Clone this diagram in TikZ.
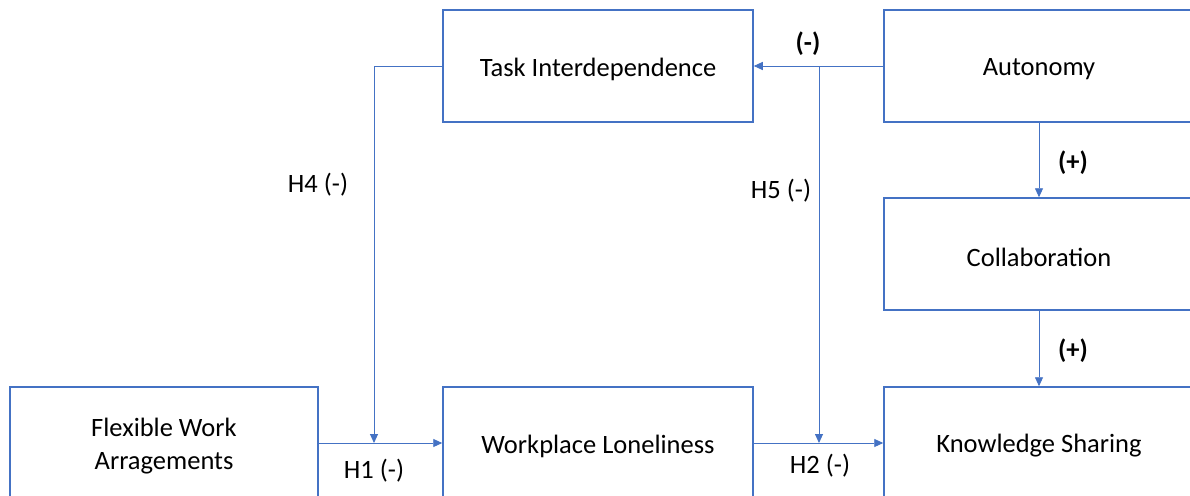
\documentclass[tikz,border=0pt]{standalone}
\usepackage{fontspec}
\setmainfont{Carlito}
\usetikzlibrary{arrows.meta}
\definecolor{lineblue}{HTML}{4472C4}
\begin{document}
\begin{tikzpicture}[x=1pt,y=-1pt,
  box/.style={draw=lineblue,line width=1.5pt,fill=white,minimum width=310pt,minimum height=112pt,inner sep=0pt},
  boxtext/.style={font=\fontsize{26.5}{33}\selectfont,align=center,inner sep=0pt,yshift=-3pt},
  conn/.style={draw=lineblue,line width=0.9pt,-{Triangle[length=9pt,width=8pt]}},
  lbl/.style={font=\fontsize{26.5}{32}\selectfont,inner sep=0pt},
  blbl/.style={font=\fontsize{26.5}{32}\selectfont\bfseries,inner sep=0pt}]
\useasboundingbox (0,0) rectangle (1190,495);
\clip (0,0) rectangle (1190,495);
\fill[white] (0,0) rectangle (1190,495);
\node[box,label={[boxtext]center:Task Interdependence}] (task) at (598,66) {};
\node[box,label={[boxtext]center:Autonomy}] (auto) at (1039,66) {};
\node[box,label={[boxtext]center:Collaboration}] (collab) at (1039,254) {};
\node[box,minimum width=308pt,label={[boxtext]center:Flexible Work\\Arragements}] (flex) at (164,443) {};
\node[box,label={[boxtext]center:Workplace Loneliness}] (lone) at (598,443) {};
\node[box,label={[boxtext]center:Knowledge Sharing}] (know) at (1039,443) {};
\coordinate (h4end) at (374,443);
\coordinate (j5) at (819,66);
\coordinate (h5end) at (819,443);
\draw[conn] (flex.east) -- (lone.west);
\draw[conn] (lone.east) -- (know.west);
\draw[conn] (task.west) -| (h4end);
\draw[conn] (auto.west) -- (task.east);
\draw[conn] (j5) -- (h5end);
\draw[conn] (auto.south) -- (collab.north);
\draw[conn] (collab.south) -- (know.north);
\node[blbl] (lm) at (808,44) {(-)};
\node[lbl] (lh4) at (318,185) {H4 (-)};
\node[lbl] (lh5) at (781,191) {H5 (-)};
\node[blbl] (lp1) at (1073,163) {(+)};
\node[blbl] (lp2) at (1073,351) {(+)};
\node[lbl] (lh1) at (374,471) {H1 (-)};
\node[lbl] (lh2) at (820,466) {H2 (-)};
\end{tikzpicture}
\end{document}
